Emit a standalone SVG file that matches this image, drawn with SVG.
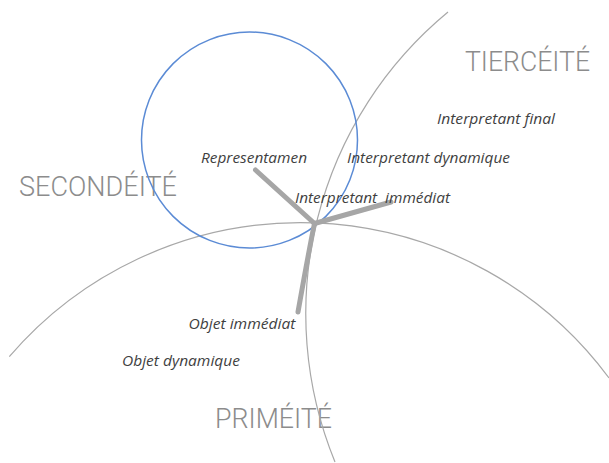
<svg xmlns="http://www.w3.org/2000/svg" width="609" height="463" viewBox="0 0 609 463">
  <style>
    .realm { font-family: Roboto, "Open Sans", "Liberation Sans", sans-serif; font-weight: 300; font-size: 27px; fill: #8c8c8c; }
    .term { font-family: "Open Sans", "Noto Sans", "Liberation Sans", sans-serif; font-style: italic; font-size: 14.5px; fill: #3f3f3f; }
    .arc { fill: none; stroke: #a8a8a8; stroke-width: 1.2; }
    .sign { fill: none; stroke: #5b8bd5; stroke-width: 1.5; }
    .leg { fill: none; stroke: #a6a6a6; stroke-width: 5; stroke-linecap: round; }
  </style>
  <rect width="609" height="463" fill="#ffffff"/>

  <!-- category labels -->
  <g id="tierceite"><text class="realm" x="465" y="71" textLength="125" lengthAdjust="spacingAndGlyphs">TIERCÉITÉ</text></g>
  <g id="secondeite"><text class="realm" x="19" y="196" textLength="158" lengthAdjust="spacingAndGlyphs">SECONDÉITÉ</text></g>
  <g id="primeite"><text class="realm" x="215" y="428" textLength="117" lengthAdjust="spacingAndGlyphs">PRIMÉITÉ</text></g>

  <!-- category boundaries -->
  <g id="boundaries">
    <path class="arc" d="M 9.3 356.7 A 383.8 383.8 0 0 1 609 377.9"/>
    <path class="arc" d="M 448 12 A 391 391 0 0 0 335 462"/>
  </g>

  <!-- sign circle -->
  <g id="sign">
    <circle class="sign" cx="249.5" cy="140" r="108"/>
  </g>

  <!-- connectors from the hub -->
  <g id="connectors">
    <line class="leg" x1="314.5" y1="223.5" x2="255.5" y2="170"/>
    <line class="leg" x1="314.5" y1="223.5" x2="391" y2="202"/>
    <path class="leg" d="M 314.5 223.5 Q 309 250 298 312"/>
  </g>

  <!-- terms -->
  <g id="representamen"><text class="term" x="201" y="162.5" textLength="106" lengthAdjust="spacingAndGlyphs">Representamen</text></g>
  <g id="interpretant-final"><text class="term" x="437" y="124" textLength="118" lengthAdjust="spacingAndGlyphs">Interpretant final</text></g>
  <g id="interpretant-dynamique"><text class="term" x="347" y="163" textLength="163" lengthAdjust="spacingAndGlyphs">Interpretant dynamique</text></g>
  <g id="interpretant-immediat"><text class="term" x="295" y="202.5" textLength="155" lengthAdjust="spacingAndGlyphs" xml:space="preserve">Interpretant  immédiat</text></g>
  <g id="objet-immediat"><text class="term" x="188.5" y="328.5" textLength="107" lengthAdjust="spacingAndGlyphs">Objet immédiat</text></g>
  <g id="objet-dynamique"><text class="term" x="122" y="366" textLength="118" lengthAdjust="spacingAndGlyphs">Objet dynamique</text></g>
</svg>
